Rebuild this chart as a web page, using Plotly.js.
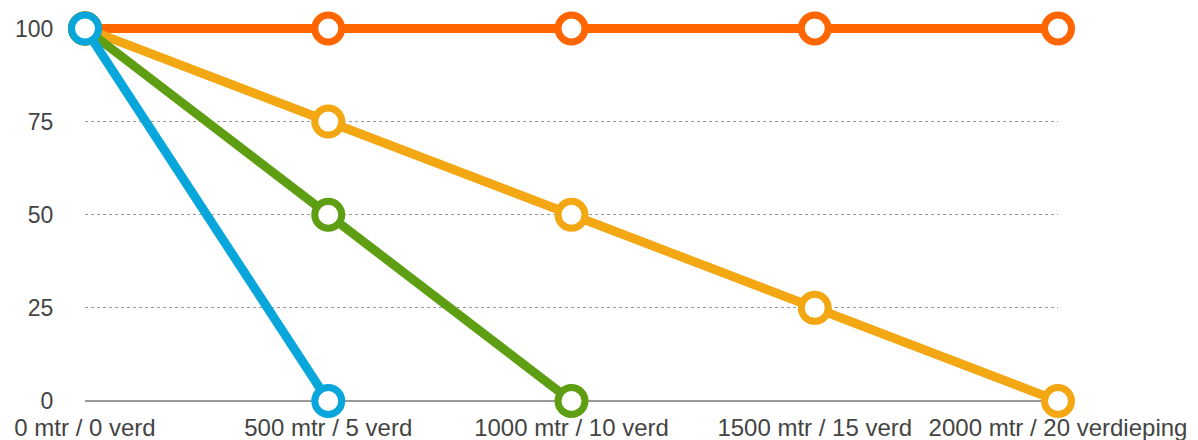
<!DOCTYPE html>
<html>
<head>
<meta charset="utf-8">
<script src="https://cdn.plot.ly/plotly-3.0.1.min.js"></script>
<style>html,body{margin:0;padding:0;background:#fff;}#chart{width:1198px;height:440px;}</style>
</head>
<body>
<div id="chart"></div>
<script>
const categories = ["0 mtr / 0 verd", "500 mtr / 5 verd", "1000 mtr / 10 verd", "1500 mtr / 15 verd", "2000 mtr / 20 verdieping"];
const seriesOrange = [100, 100, 100, 100, 100];
const seriesYellow = [100, 75, 50, 25, 0];
const seriesGreen = [100, 50, 0];
const seriesBlue = [100, 0];
const yTicks = [0, 25, 50, 75, 100];

function trace(vals, color) {
  return {
    x: categories.slice(0, vals.length),
    y: vals,
    type: 'scatter',
    mode: 'lines+markers',
    line: {color: color, width: 9},
    marker: {size: 27, color: '#ffffff', line: {color: color, width: 7}},
    cliponaxis: false,
    hoverinfo: 'skip'
  };
}

const data = [
  trace(seriesOrange, '#FF6600'),
  trace(seriesYellow, '#F3A712'),
  trace(seriesGreen, '#5E9E12'),
  trace(seriesBlue, '#08A6DB')
];

const layout = {
  width: 1198, height: 440,
  margin: {l: 85, r: 140, t: 20.5, b: 39, pad: 0},
  paper_bgcolor: '#ffffff', plot_bgcolor: '#ffffff',
  showlegend: false,
  font: {family: '"Liberation Sans", Arial, sans-serif', size: 24, color: '#444444'},
  xaxis: {
    type: 'category',
    categoryorder: 'array', categoryarray: categories,
    range: [0, 4],
    showgrid: false, zeroline: false, showline: false,
    ticks: 'outside', ticklen: 5, tickcolor: 'rgba(0,0,0,0)',
    tickfont: {size: 24, color: '#444444'}
  },
  yaxis: {
    range: [0, 102],
    tickvals: yTicks,
    showgrid: true, gridcolor: '#999999', griddash: 'dot', gridwidth: 1,
    zeroline: true, zerolinecolor: '#999999', zerolinewidth: 1.5,
    showline: false,
    ticks: 'outside', ticklen: 26, tickcolor: 'rgba(0,0,0,0)',
    tickfont: {size: 23, color: '#444444'}
  }
};

Plotly.newPlot('chart', data, layout, {displayModeBar: false, staticPlot: true});
</script>
</body>
</html>
